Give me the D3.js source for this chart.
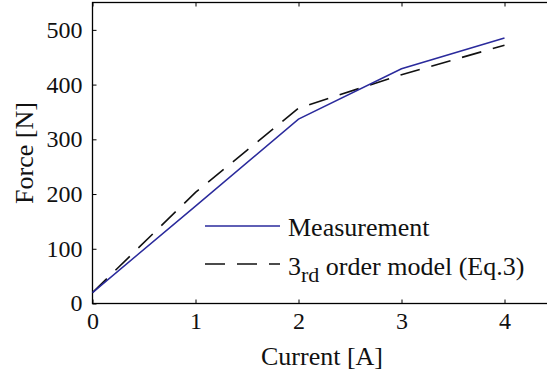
<!DOCTYPE html>
<html>
<head>
<meta charset="utf-8">
<script src="https://cdn.jsdelivr.net/npm/d3@7"></script>
<style>
  body { margin: 0; background: #fff; }
  svg { display: block; font-family: "Liberation Serif", serif; }
  .axis path, .axis line { stroke: #000; }
</style>
</head>
<body>
<svg width="547" height="376"></svg>
<script>
'use strict';

const current = [0, 1, 2, 3, 4];
const measurement = [20, 178, 337, 429, 485];
const model = [20, 203, 357, 418, 472];
const xTicks = [0, 1, 2, 3, 4];
const yTicks = [0, 100, 200, 300, 400, 500];

const svg = d3.select('svg');
const margin = {left: 92.5, top: 2.5, bottom: 303.5};
const dash = '20,12';
const textColor = '#111';

const x = d3.scaleLinear().domain([0, 4.5]).range([margin.left, margin.left + 4.5 * 103]);
const y = d3.scaleLinear().domain([0, 550]).range([margin.bottom, margin.top]);

// frame
svg.append('rect')
  .attr('x', x(0)).attr('y', y(550))
  .attr('width', x(4.5) - x(0)).attr('height', y(0) - y(550))
  .attr('fill', 'none').attr('stroke', '#000').attr('stroke-width', 1.3);

// d3 axis puts sans-serif 10px on the group, override it on the texts
const styleAxis = g => g
  .call(g => g.select('.domain').remove())
  .call(g => g.selectAll('text')
    .attr('fill', textColor)
    .style('font-family', '"Liberation Serif"')
    .style('font-size', '24px'));

// axes, ticks pointing inward
svg.append('g').classed('axis', true)
  .attr('transform', `translate(0,${y(0)})`)
  .call(d3.axisBottom(x).tickValues(xTicks).tickSizeInner(-4).tickSizeOuter(0)
    .tickPadding(8).tickFormat(d3.format('d')))
  .call(styleAxis);

svg.append('g').classed('axis', true)
  .attr('transform', `translate(0,${y(550)})`)
  .call(d3.axisTop(x).tickValues(xTicks).tickSizeInner(-4).tickSizeOuter(0).tickFormat(''))
  .call(styleAxis);

svg.append('g').classed('axis', true)
  .attr('transform', `translate(${x(0)},0)`)
  .call(d3.axisLeft(y).tickValues(yTicks).tickSizeInner(-4).tickSizeOuter(0).tickFormat(''))
  .call(styleAxis);

// y tick labels as plain texts
svg.append('g')
  .selectAll('text')
  .data(yTicks)
  .join('text')
  .attr('x', x(0) - 10)
  .attr('y', d => y(d))
  .attr('dy', '0.33em')
  .attr('text-anchor', 'end')
  .attr('fill', textColor)
  .style('font-family', '"Liberation Serif"')
  .style('font-size', '24px')
  .text(d => d);

// axis labels
svg.append('text')
  .attr('x', 322).attr('y', 365)
  .attr('text-anchor', 'middle')
  .style('font-size', '26px').attr('fill', textColor)
  .text('Current [A]');

svg.append('text')
  .attr('transform', 'translate(33,153) rotate(-90)')
  .attr('text-anchor', 'middle')
  .style('font-size', '26px').attr('fill', textColor)
  .text('Force [N]');

// lines
const line = (vals) => d3.line()
  .x((d, i) => x(current[i]))
  .y(d => y(d))(vals);

svg.append('path')
  .attr('d', line(model))
  .attr('fill', 'none')
  .attr('stroke', '#111')
  .attr('stroke-width', 1.6)
  .attr('stroke-dasharray', dash);

svg.append('path')
  .attr('d', line(measurement))
  .attr('fill', 'none')
  .attr('stroke', '#2a2a9c')
  .attr('stroke-width', 1.5);

// legend
const legend = svg.append('g');
legend.append('line')
  .attr('x1', 205).attr('x2', 280).attr('y1', 226).attr('y2', 226)
  .attr('stroke', '#2a2a9c').attr('stroke-width', 1.5);
legend.append('text')
  .attr('x', 288).attr('y', 236)
  .style('font-size', '26px').attr('fill', textColor)
  .text('Measurement');

legend.append('line')
  .attr('x1', 205).attr('x2', 280).attr('y1', 264).attr('y2', 264)
  .attr('stroke', '#111').attr('stroke-width', 1.6)
  .attr('stroke-dasharray', dash);
const t2 = legend.append('text')
  .attr('x', 288).attr('y', 275)
  .style('font-size', '26px').attr('fill', textColor);
t2.append('tspan').text('3');
t2.append('tspan').attr('dy', 7).style('font-size', '22px').text('rd');
t2.append('tspan').attr('dy', -7).text(' order model (Eq.3)');
</script>
</body>
</html>
